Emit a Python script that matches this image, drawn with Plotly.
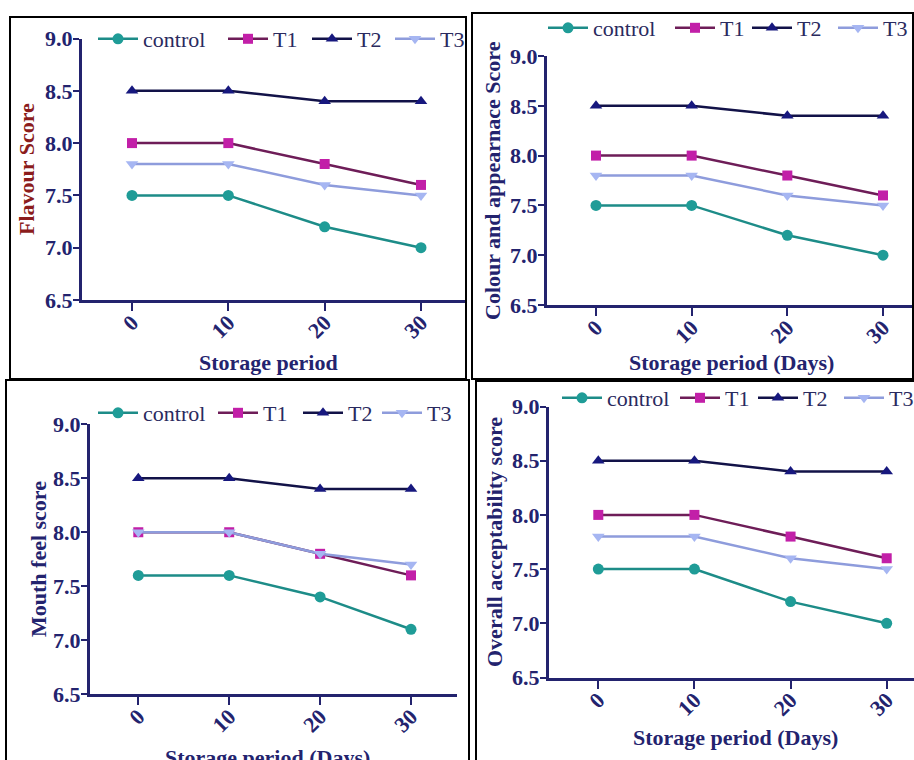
import plotly.graph_objects as go

# ---------------- data ----------------
days = [0, 10, 20, 30]
x_tick_labels = ["0", "10", "20", "30"]
y_ticks = [6.5, 7.0, 7.5, 8.0, 8.5, 9.0]
y_tick_labels = ["6.5", "7.0", "7.5", "8.0", "8.5", "9.0"]
series_names = ["control", "T1", "T2", "T3"]

flavour_control = [7.5, 7.5, 7.2, 7.0]
flavour_t1 = [8.0, 8.0, 7.8, 7.6]
flavour_t2 = [8.5, 8.5, 8.4, 8.4]
flavour_t3 = [7.8, 7.8, 7.6, 7.5]

colour_control = [7.5, 7.5, 7.2, 7.0]
colour_t1 = [8.0, 8.0, 7.8, 7.6]
colour_t2 = [8.5, 8.5, 8.4, 8.4]
colour_t3 = [7.8, 7.8, 7.6, 7.5]

mouth_control = [7.6, 7.6, 7.4, 7.1]
mouth_t1 = [8.0, 8.0, 7.8, 7.6]
mouth_t2 = [8.5, 8.5, 8.4, 8.4]
mouth_t3 = [8.0, 8.0, 7.8, 7.7]

overall_control = [7.5, 7.5, 7.2, 7.0]
overall_t1 = [8.0, 8.0, 7.8, 7.6]
overall_t2 = [8.5, 8.5, 8.4, 8.4]
overall_t3 = [7.8, 7.8, 7.6, 7.5]

panel_series = [
    [flavour_control, flavour_t1, flavour_t2, flavour_t3],
    [colour_control, colour_t1, colour_t2, colour_t3],
    [mouth_control, mouth_t1, mouth_t2, mouth_t3],
    [overall_control, overall_t1, overall_t2, overall_t3],
]
y_titles = ["Flavour Score", "Colour and appearnace Score",
            "Mouth feel score", "Overall acceptability score"]
x_titles = ["Storage period", "Storage period (Days)",
            "Storage period (Days)", "Storage period (Days)"]

# ---------------- styling ----------------
W, H = 914, 760
NAVY = "#23236e"
FONT = "Liberation Serif"
marker_colors = ["#1f9c97", "#c21fa8", "#17187e", "#a6b6f2"]
line_colors = ["#1d8c88", "#6e1d58", "#121248", "#8e9cdc"]
symbols = ["circle", "square", "triangle-up", "triangle-down"]
msizes = [11, 10, 11, 11]

panels = [
    dict(xl=82, xr=466, p0=132, p30=421, yt=38.5, yb=300,
         box=(10, 17, 466, 379), leg_y=39, leg_x=[113, 243, 327, 410],
         xt=(268, 362), ytl=(27, 169), ycol="#8b1c1c"),
    dict(xl=547, xr=913, p0=596, p30=883, yt=56, yb=305,
         box=(472, 13, 913, 379), leg_y=28, leg_x=[563, 690, 767, 853],
         xt=(731, 362), ytl=(493, 180), ycol=NAVY),
    dict(xl=90, xr=457, p0=138.3, p30=411, yt=424.4, yb=694,
         box=(6, 380, 469, 764), leg_y=413, leg_x=[113, 233, 318, 397],
         xt=(267, 757), ytl=(38, 559), ycol=NAVY),
    dict(xl=549, xr=914, p0=598.3, p30=886.7, yt=406.5, yb=677.5,
         box=(476, 381, 916, 764), leg_y=398, leg_x=[577, 695, 773, 859],
         xt=(735, 737), ytl=(494, 542), ycol=NAVY),
]

fig = go.Figure()
layout = dict(
    width=W, height=H, margin=dict(l=0, r=0, t=0, b=0, autoexpand=False),
    paper_bgcolor="white", plot_bgcolor="white",
    showlegend=True, shapes=[], annotations=[],
)

leg_k = 0
for pi, (pan, series) in enumerate(zip(panels, panel_series)):
    sfx = "" if pi == 0 else str(pi + 1)
    for si, vals in enumerate(series):
        leg_k += 1
        leg_id = "legend" if leg_k == 1 else f"legend{leg_k}"
        fig.add_trace(go.Scatter(
            x=days, y=vals, name=series_names[si], mode="lines+markers",
            line=dict(color=line_colors[si], width=2.5),
            marker=dict(color=marker_colors[si], symbol=symbols[si],
                        size=msizes[si]),
            xaxis="x" + sfx, yaxis="y" + sfx, legend=leg_id,
            cliponaxis=False,
        ))
        layout[leg_id] = dict(
            x=(pan["leg_x"][si] - 20) / W, xanchor="left",
            y=1 - pan["leg_y"] / H, yanchor="middle",
            orientation="h", bgcolor="rgba(0,0,0,0)", borderwidth=0,
            font=dict(family=FONT, size=22, color="#2a2a5e"),
            itemwidth=40,
        )
    scale = (pan["p30"] - pan["p0"]) / 30.0
    lo = (pan["xl"] - pan["p0"]) / scale
    hi = 30 + (pan["xr"] - pan["p30"]) / scale
    layout["xaxis" + sfx] = dict(
        domain=[pan["xl"] / W, min(pan["xr"] / W, 1.0)],
        anchor="y" + sfx, range=[lo, hi],
        tickmode="array", tickvals=days, ticktext=x_tick_labels,
        tickangle=-45, ticks="outside", ticklen=8, tickwidth=2,
        tickcolor=NAVY, showline=True, linecolor=NAVY, linewidth=3,
        showgrid=False, zeroline=False, ticklabelstandoff=-10,
        tickfont=dict(family=FONT, size=22, color=NAVY, weight="bold"),
    )
    layout["yaxis" + sfx] = dict(
        domain=[1 - pan["yb"] / H, 1 - pan["yt"] / H],
        anchor="x" + sfx, range=[6.5, 9.0],
        tickmode="array", tickvals=y_ticks, ticktext=y_tick_labels,
        ticks="outside", ticklen=6, tickwidth=2, tickcolor=NAVY,
        showline=True, linecolor=NAVY, linewidth=3,
        showgrid=False, zeroline=False, ticklabelstandoff=-4,
        tickfont=dict(family=FONT, size=22, color=NAVY, weight="bold"),
    )
    x0, y0, x1, y1 = pan["box"]
    layout["shapes"].append(dict(
        type="rect", xref="paper", yref="paper",
        x0=x0 / W, x1=x1 / W, y0=1 - y1 / H, y1=1 - y0 / H,
        line=dict(color="black", width=2), fillcolor="rgba(0,0,0,0)",
        layer="above",
    ))
    layout["annotations"].append(dict(
        text=x_titles[pi], xref="paper", yref="paper",
        x=pan["xt"][0] / W, y=1 - pan["xt"][1] / H,
        xanchor="center", yanchor="middle", showarrow=False,
        font=dict(family=FONT, size=22, color=NAVY, weight="bold"),
    ))
    layout["annotations"].append(dict(
        text=y_titles[pi], xref="paper", yref="paper",
        x=pan["ytl"][0] / W, y=1 - pan["ytl"][1] / H, textangle=-90,
        xanchor="center", yanchor="middle", showarrow=False,
        font=dict(family=FONT, size=22, color=pan["ycol"], weight="bold"),
    ))

fig.update_layout(**layout)
fig.write_html("out.html",
               config={"displayModeBar": False},
               post_script="document.body.style.margin='0';")
